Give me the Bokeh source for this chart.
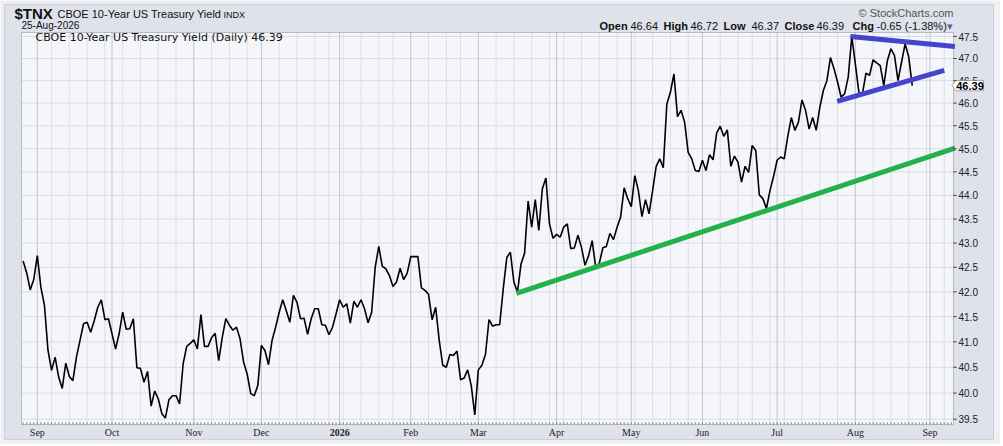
import numpy as np
import pandas as pd
from bokeh.plotting import figure
from bokeh.models import (Label, Range1d, LinearScale, LogScale,
                          Legend, LegendItem, PolyAnnotation, BoxAnnotation)
from bokeh.core.properties import value
from bokeh.embed import file_html
from bokeh.resources import INLINE

# ---------------- data ----------------
start_date = "2025-08-26"
last_date = "2026-08-25"
calendar_end = "2026-09-11"
holidays = ["2025-09-01", "2025-11-27", "2025-12-25", "2026-01-01", "2026-01-19",
            "2026-02-16", "2026-04-03", "2026-05-25", "2026-06-19", "2026-07-03",
            "2026-09-07"]

yields = [
    42.63, 42.39, 42.04, 42.25, 42.74, 42.09, 41.73, 40.83, 40.44, 40.70,
    40.31, 40.09, 40.58, 40.32, 40.24, 40.70, 41.03, 41.36, 41.39, 41.19,
    41.42, 41.69, 41.84, 41.44, 41.46, 41.16, 40.86, 41.16, 41.59, 41.25,
    41.26, 41.46, 40.49, 40.48, 40.21, 40.42, 39.75, 40.04, 39.89, 39.61,
    39.52, 39.87, 39.95, 39.95, 39.79, 40.57, 40.91, 40.97, 41.04, 40.86,
    41.54, 40.91, 40.91, 41.08, 41.17, 40.63, 41.09, 41.46, 41.33, 41.23,
    41.29, 41.06, 40.60, 40.37, 39.99, 39.95, 40.15, 40.93, 40.83, 40.55,
    41.03, 41.29, 41.59, 41.84, 41.62, 41.39, 41.93, 41.79, 41.46, 41.47,
    41.15, 41.46, 41.66, 41.66, 41.34, 41.33, 41.14, 41.29, 41.56, 41.84,
    41.69, 41.76, 41.37, 41.81, 41.69, 41.84, 41.66, 41.38, 41.59, 42.50,
    42.93, 42.52, 42.47, 42.33, 42.11, 42.20, 42.48, 42.25, 42.38, 42.72,
    42.72, 42.72, 42.08, 42.03, 41.95, 41.44, 41.69, 41.03, 40.54, 40.50,
    40.75, 40.73, 40.82, 40.26, 40.29, 40.45, 40.15, 39.58, 40.45, 40.54,
    40.75, 41.44, 41.31, 41.34, 41.34, 42.06, 42.70, 42.81, 42.20, 41.99,
    42.57, 42.79, 43.88, 43.33, 43.91, 43.26, 44.14, 44.37, 43.40, 43.10,
    43.18, 43.12, 43.33, 43.40, 42.88, 42.90, 43.16, 42.91, 42.54, 42.74,
    43.05, 42.50, 42.58, 42.90, 42.93, 43.20, 43.07, 43.33, 43.54, 44.16,
    43.93, 43.76, 44.42, 44.10, 43.55, 43.91, 43.61, 44.10, 44.62, 44.78,
    44.59, 45.98, 46.24, 46.65, 45.70, 45.84, 45.58, 44.92, 44.78, 44.53,
    44.51, 44.75, 44.53, 44.87, 44.76, 45.34, 45.49, 45.27, 45.41, 44.62,
    44.84, 44.71, 44.28, 44.62, 44.49, 45.07, 44.96, 44.01, 43.93, 43.72,
    44.10, 44.40, 44.75, 44.82, 44.78, 45.27, 45.68, 45.40, 45.58, 46.07,
    45.84, 45.43, 45.68, 45.40, 45.90, 46.28, 46.50, 47.02, 46.77, 46.47,
    46.13, 46.21, 46.58, 47.50, 46.88, 46.24, 46.21, 46.67, 46.62, 46.97,
    46.90, 46.84, 46.39, 46.95, 47.22, 47.07, 46.50, 46.92, 47.33, 47.04,
    46.39,
]

open_v, high_v, low_v, close_v = 46.64, 46.72, 46.37, 46.39
chg_v, chg_pct = -0.65, -1.38

month_labels = ["Sep", "Oct", "Nov", "Dec", "2026", "Feb", "Mar", "Apr",
                "May", "Jun", "Jul", "Aug", "Sep"]
y_ticks = [39.5, 40.0, 40.5, 41.0, 41.5, 42.0, 42.5, 43.0, 43.5, 44.0,
           44.5, 45.0, 45.5, 46.0, 46.5, 47.0, 47.5]

# trend lines (trading-day index, value)
green_idx, green_val = [138.7, 262.0], [41.97, 45.01]
blue_top_idx, blue_top_val = [232.6, 262.0], [47.50, 47.27]
blue_low_idx, blue_low_val = [228.9, 259.0], [46.04, 46.73]

# visible data window of the price panel
x_view = (-0.45, 261.6)
y_view = (39.399, 47.592)

# ---------------- trading calendar ----------------
days = pd.bdate_range(start_date, calendar_end)
days = days[~days.isin(pd.to_datetime(holidays))]
n = len(yields)
assert days[n - 1] == pd.Timestamp(last_date)
mper = days.to_period("M")
wper = days.to_period("W")
month_starts = [i for i in range(1, len(days)) if mper[i] != mper[i - 1]]
week_starts = [i for i in range(1, len(days)) if wper[i] != wper[i - 1] and i not in month_starts]
all_days = [i for i in range(len(days)) if x_view[0] < i < x_view[1]]

# ---------------- page geometry ----------------
W, H = 1000, 444
FL, FT, FR, FB = 21, 32, 953, 424          # price panel box on the page (px)
kx = (FR - FL) / (x_view[1] - x_view[0])
ky = (FB - FT) / np.log(y_view[1] / y_view[0])
x_lo = x_view[0] - FL / kx
x_hi = x_view[1] + (W - FR) / kx
y_hi = y_view[1] * np.exp(FT / ky)
y_lo = y_view[0] * np.exp(-(H - FB) / ky)

p = figure(width=W, height=H, x_range=Range1d(x_lo, x_hi), y_range=Range1d(y_lo, y_hi),
           x_axis_type=None, y_axis_type=None, min_border=0,
           output_backend="svg", toolbar_location=None,
           background_fill_color="#eef0f4", border_fill_color="#eef0f4",
           outline_line_color=None)
p.y_scale = LogScale()
p.extra_x_ranges = {"px": Range1d(0, W)}
p.extra_y_ranges = {"py": Range1d(H, 0)}
p.extra_x_scales = {"px": LinearScale()}
p.extra_y_scales = {"py": LinearScale()}

# outer panel and price panel background
p.add_layout(BoxAnnotation(left=4, right=993, bottom=H - 439, top=H - 4,
                           left_units="screen", right_units="screen",
                           bottom_units="screen", top_units="screen",
                           fill_color="#dfe2ea", fill_alpha=1.0,
                           line_color="#9097a6", line_width=1, level="underlay"))
p.add_layout(BoxAnnotation(left=x_view[0], right=x_view[1], bottom=y_view[0], top=y_view[1],
                           fill_color="#f5f6fa", fill_alpha=1.0, line_color=None,
                           level="underlay"))

# grid lines
p.segment(x0=week_starts, x1=week_starts, y0=y_view[0], y1=y_view[1],
          line_color="#dcdfe6", line_width=1)
p.segment(x0=x_view[0], x1=x_view[1], y0=y_ticks, y1=y_ticks,
          line_color="#d9dce4", line_width=1)
p.segment(x0=month_starts, x1=month_starts, y0=y_view[0], y1=y_view[1],
          line_color="#bfc3cc", line_width=1)

# daily tick marks along the bottom edge
p.segment(x0=all_days, x1=all_days, y0=FB, y1=FB - 2, y_range_name="py",
          line_color="#777777", line_width=1)

# price line
p.line(x=list(range(n)), y=yields, line_color="black", line_width=1.6)

# trend lines
p.line(green_idx, green_val, line_color="#22b14c", line_width=5)
p.line(blue_top_idx, blue_top_val, line_color="#4444cc", line_width=5)
p.line(blue_low_idx, blue_low_val, line_color="#4444cc", line_width=5)

# panel frame
p.add_layout(BoxAnnotation(left=x_view[0], right=x_view[1], bottom=y_view[0], top=y_view[1],
                           fill_alpha=0, line_color="#4d4d4d", line_width=1))

# right value axis: ticks and labels
p.segment(x0=FR, x1=FR + 3, y0=y_ticks, y1=y_ticks, x_range_name="px",
          line_color="#333333", line_width=1)
p.text(x=FR + 5, y=y_ticks, text=[f"{t:.1f}" for t in y_ticks], x_range_name="px",
       text_font=value("Liberation Sans"), text_font_size=value("10px"),
       text_color="#222222", text_align="left", text_baseline="middle")

# bottom month labels
p.text(x=month_starts, y=FB + 7.5, y_range_name="py", text=month_labels,
       text_font=value("Liberation Sans Narrow"), text_font_size=value("10px"),
       text_font_style=["bold" if lab.isdigit() else "normal" for lab in month_labels],
       text_color="#222222", text_align="center", text_baseline="middle")

# legend
leg_r = p.line(x=[], y=[], line_color="black", line_width=3)
legend = Legend(items=[LegendItem(label=f"CBOE 10-Year US Treasury Yield (Daily) {close_v:.2f}",
                                  renderers=[leg_r])],
                location="top_left", label_text_font="DejaVu Sans", label_text_font_size="11px",
                label_text_color="#111111", glyph_width=6, glyph_height=12, label_height=12,
                label_standoff=7, padding=0, margin=0, spacing=0,
                background_fill_alpha=0, border_line_alpha=0)
legend.location = (FL + 1.5, H - FT - 12)
p.add_layout(legend)


def add_text(px, py, text, size, bold=False, color="#111111", align="left",
             font="Liberation Sans"):
    p.add_layout(Label(x=px, y=H - py, x_units="screen", y_units="screen", text=text,
                       text_font=font, text_font_size=f"{size}px",
                       text_font_style="bold" if bold else "normal",
                       text_color=color, text_align=align, text_baseline="middle"))


# header
add_text(14, 12.5, "$TNX", 15, bold=True)
add_text(57, 13.5, "CBOE 10-Year US Treasury Yield", 11)
add_text(223, 14, "INDX", 9)
add_text(21, 25, days[n - 1].strftime("%d-%b-%Y"), 10)
add_text(953, 12.5, "\u00a9 StockCharts.com", 11, color="#555555", align="right")

hy = 25
add_text(599, hy, "Open", 11, bold=True)
add_text(630, hy, f"{open_v:.2f}", 11)
add_text(663, hy, "High", 11, bold=True)
add_text(690, hy, f"{high_v:.2f}", 11)
add_text(723, hy, "Low", 11, bold=True)
add_text(751, hy, f"{low_v:.2f}", 11)
add_text(784, hy, "Close", 11, bold=True)
add_text(816, hy, f"{close_v:.2f}", 11)
add_text(852, hy, "Chg", 11, bold=True)
add_text(876, hy, f"{chg_v:.2f} ({chg_pct:.2f}%)", 11)
add_text(946, hy, "\u25be", 11, color="#4a6aa8")

# last value callout on the right axis
hi_v = close_v * np.exp(5.2 / ky)
lo_v = close_v * np.exp(-5.2 / ky)
p.add_layout(PolyAnnotation(xs=[951.5, 955.5, 983, 983, 955.5],
                            ys=[close_v, hi_v, hi_v, lo_v, lo_v],
                            xs_units="screen", ys_units="data",
                            fill_color="white", fill_alpha=1.0,
                            line_color="black", line_width=1))
p.add_layout(Label(x=969.5, y=close_v, x_units="screen", y_units="data",
                   text=f"{close_v:.2f}", text_font="Liberation Sans", text_font_size="11px",
                   text_font_style="bold", text_color="black", text_align="center",
                   text_baseline="middle"))

open("out.html", "w").write(file_html(p, INLINE))
